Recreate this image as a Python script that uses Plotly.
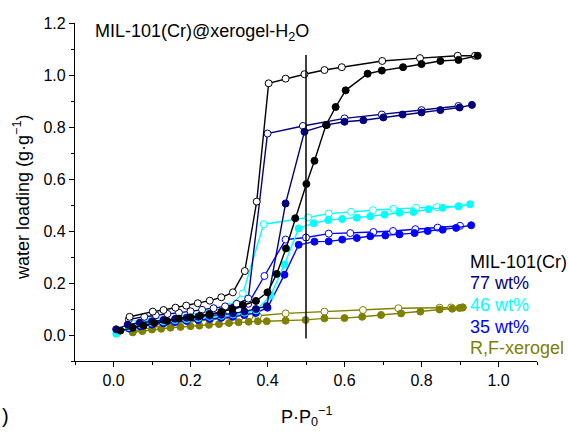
import plotly.graph_objects as go

# ---------------- data ----------------
mil_ads_x = [0.018, 0.05, 0.078, 0.106, 0.139, 0.17, 0.2, 0.225, 0.249, 0.28, 0.308, 0.336, 0.37, 0.40, 0.424,
             0.448, 0.472, 0.501, 0.522, 0.552, 0.577, 0.603, 0.66, 0.697, 0.752, 0.80, 0.849, 0.896, 0.946]
mil_ads_y = [0.017, 0.028, 0.036, 0.046, 0.054, 0.063, 0.068, 0.074, 0.081, 0.089, 0.10, 0.115, 0.131, 0.164, 0.235,
             0.333, 0.449, 0.581, 0.67, 0.808, 0.877, 0.941, 1.005, 1.017, 1.03, 1.042, 1.054, 1.058, 1.074]
mil_des_x = [0.939, 0.894, 0.796, 0.698, 0.593, 0.548, 0.496, 0.447, 0.403, 0.372, 0.341, 0.31, 0.28, 0.25,
             0.219, 0.189, 0.161, 0.13, 0.102, 0.042]
mil_des_y = [1.074, 1.074, 1.065, 1.054, 1.03, 1.019, 1.003, 0.986, 0.968, 0.513, 0.246, 0.164, 0.145, 0.132,
             0.122, 0.113, 0.105, 0.096, 0.09, 0.07]

w77_ads_x = [0.007, 0.037, 0.068, 0.10, 0.13, 0.16, 0.19, 0.22, 0.25, 0.28, 0.31, 0.34, 0.37, 0.398, 0.447,
             0.496, 0.554, 0.60, 0.649, 0.701, 0.751, 0.80, 0.849, 0.899, 0.931]
w77_ads_y = [0.022, 0.04, 0.047, 0.053, 0.058, 0.062, 0.066, 0.07, 0.074, 0.078, 0.083, 0.09, 0.1, 0.111, 0.506,
             0.782, 0.808, 0.82, 0.826, 0.837, 0.848, 0.856, 0.865, 0.875, 0.885]
w77_des_x = [0.896, 0.80, 0.697, 0.60, 0.492, 0.40, 0.35, 0.32, 0.29, 0.26, 0.23, 0.20, 0.17, 0.14, 0.11,
             0.08, 0.04]
w77_des_y = [0.881, 0.865, 0.848, 0.833, 0.804, 0.775, 0.14, 0.12, 0.11, 0.103, 0.097, 0.091, 0.086, 0.081,
             0.076, 0.07, 0.06]

w46_ads_x = [0.007, 0.04, 0.07, 0.10, 0.13, 0.16, 0.19, 0.22, 0.25, 0.28, 0.31, 0.34, 0.37, 0.408, 0.444, 0.481,
             0.52, 0.558, 0.594, 0.632, 0.667, 0.704, 0.743, 0.779, 0.818, 0.855, 0.896, 0.926]
w46_ads_y = [0.005, 0.03, 0.04, 0.047, 0.052, 0.057, 0.061, 0.065, 0.07, 0.074, 0.079, 0.086, 0.095, 0.151,
             0.271, 0.41, 0.43, 0.442, 0.446, 0.451, 0.457, 0.463, 0.47, 0.473, 0.484, 0.489, 0.495, 0.503]
w46_des_x = [0.897, 0.84, 0.786, 0.727, 0.674, 0.617, 0.559, 0.505, 0.39, 0.336, 0.30, 0.25, 0.20, 0.15,
             0.10, 0.05]
w46_des_y = [0.495, 0.492, 0.489, 0.485, 0.48, 0.474, 0.467, 0.452, 0.426, 0.16, 0.11, 0.09, 0.08, 0.07,
             0.06, 0.045]

w35_ads_x = [0.01, 0.04, 0.07, 0.10, 0.13, 0.16, 0.19, 0.22, 0.25, 0.28, 0.31, 0.34, 0.37, 0.40, 0.444, 0.481,
             0.522, 0.559, 0.594, 0.632, 0.667, 0.706, 0.743, 0.782, 0.816, 0.855, 0.89, 0.929]
w35_ads_y = [0.012, 0.025, 0.033, 0.04, 0.045, 0.05, 0.054, 0.058, 0.062, 0.066, 0.07, 0.077, 0.085, 0.105,
             0.232, 0.347, 0.359, 0.36, 0.367, 0.373, 0.38, 0.383, 0.387, 0.392, 0.40, 0.405, 0.412, 0.422]
w35_des_x = [0.90, 0.842, 0.784, 0.726, 0.675, 0.615, 0.559, 0.50, 0.447, 0.392, 0.35, 0.30, 0.25, 0.20,
             0.15, 0.10, 0.05]
w35_des_y = [0.42, 0.413, 0.407, 0.40, 0.396, 0.392, 0.39, 0.375, 0.367, 0.227, 0.12, 0.09, 0.078, 0.068,
             0.058, 0.048, 0.035]

rf_ads_x = [0.05, 0.075, 0.1, 0.124, 0.148, 0.174, 0.2, 0.223, 0.248, 0.274, 0.3, 0.325, 0.351, 0.375, 0.398,
            0.447, 0.499, 0.548, 0.6, 0.646, 0.695, 0.747, 0.797, 0.847, 0.88, 0.899, 0.907]
rf_ads_y = [0.01, 0.015, 0.021, 0.024, 0.028, 0.031, 0.034, 0.036, 0.039, 0.042, 0.046, 0.049, 0.051, 0.053,
            0.053, 0.055, 0.058, 0.064, 0.065, 0.07, 0.077, 0.083, 0.09, 0.098, 0.101, 0.104, 0.106]
rf_des_x = [0.907, 0.877, 0.847, 0.74, 0.648, 0.548, 0.447, 0.375, 0.353, 0.327, 0.25, 0.15, 0.05]
rf_des_y = [0.106, 0.106, 0.105, 0.103, 0.096, 0.09, 0.083, 0.074, 0.072, 0.068, 0.058, 0.042, 0.015]

ref_p = 0.5
ref_y = [-0.013, 1.077]

legend_labels = ["MIL-101(Cr)", "77 wt%", "46 wt%", "35 wt%", "R,F-xerogel"]
colors = ["#000000", "#000080", "#00FFFF", "#0000FF", "#808000"]

series = [
    (rf_ads_x, rf_ads_y, rf_des_x, rf_des_y, colors[4]),
    (w35_ads_x, w35_ads_y, w35_des_x, w35_des_y, colors[3]),
    (w46_ads_x, w46_ads_y, w46_des_x, w46_des_y, colors[2]),
    (w77_ads_x, w77_ads_y, w77_des_x, w77_des_y, colors[1]),
    (mil_ads_x, mil_ads_y, mil_des_x, mil_des_y, colors[0]),
]

FONT = "Arial, Liberation Sans, sans-serif"
fig = go.Figure()

for ax, ay, dx, dy, c in series:
    fig.add_trace(go.Scatter(x=dx, y=dy, mode="lines+markers",
                             line=dict(color=c, width=1.4),
                             marker=dict(symbol="circle", size=7, color="white",
                                         line=dict(color=c, width=1)),
                             showlegend=False))
    fig.add_trace(go.Scatter(x=ax, y=ay, mode="lines+markers",
                             line=dict(color=c, width=1.4),
                             marker=dict(symbol="circle", size=7, color=c,
                                         line=dict(color=c, width=1)),
                             showlegend=False))

fig.add_trace(go.Scatter(x=[ref_p, ref_p], y=ref_y, mode="lines",
                         line=dict(color="black", width=1.5), showlegend=False))

axis_common = dict(showline=True, linecolor="black", linewidth=1.3, ticks="outside",
                   ticklen=5, tickwidth=1.3, tickcolor="black", showgrid=False, zeroline=False,
                   tickfont=dict(family=FONT, size=16, color="black"),
                   minor=dict(ticks="outside", ticklen=3, tickwidth=1.3, tickcolor="black", dtick=0.1,
                              showgrid=False))

fig.update_xaxes(range=[-0.1, 1.1], tick0=0, dtick=0.2, tickformat=".1f", **axis_common)
fig.update_yaxes(range=[-0.1, 1.2], tick0=0, dtick=0.2, tickformat=".1f", **axis_common)

annotations = [
    dict(text="MIL-101(Cr)@xerogel-H<sub>2</sub>O", x=93, y=32, xanchor="left", yanchor="middle"),
]

fig.update_layout(
    width=569, height=432,
    margin=dict(l=75, r=32, t=23, b=71),
    paper_bgcolor="white", plot_bgcolor="white",
    font=dict(family=FONT, size=16, color="black"),
)

def px_to_paper(px, py):
    return (px - 75) / 462, (361 - py) / 338

ann = []
tx, ty = px_to_paper(93, 32)
ann.append(dict(text="MIL-101(Cr)@xerogel-H<sub>2</sub>O", x=tx, y=ty, xref="paper", yref="paper",
                xanchor="left", yanchor="middle", showarrow=False, font=dict(size=18, color="black")))
leg_y = [262, 283, 305, 327, 348]
for lab, c, py in zip(legend_labels, colors, leg_y):
    lx, ly = px_to_paper(468, py)
    ann.append(dict(text=lab, x=lx, y=ly, xref="paper", yref="paper", xanchor="left", yanchor="middle",
                    showarrow=False, font=dict(size=18, color=c)))
xt, yt = px_to_paper(306, 416)
ann.append(dict(text="P·P<sub>0</sub><sup>−1</sup>", x=xt, y=yt, xref="paper", yref="paper",
                xanchor="center", yanchor="middle", showarrow=False, font=dict(size=18, color="black")))
yx, yy = px_to_paper(21, 198)
ann.append(dict(text="water loading (g·g<sup>−1</sup>)", x=yx, y=yy, xref="paper", yref="paper",
                xanchor="center", yanchor="middle", textangle=-90, showarrow=False,
                font=dict(size=18, color="black")))
px_, py_ = px_to_paper(0, 416)
ann.append(dict(text=")", x=px_, y=py_, xref="paper", yref="paper", xanchor="left", yanchor="middle",
                showarrow=False, font=dict(size=20, color="black")))
fig.update_layout(annotations=ann)

fig.write_html("out.html")
